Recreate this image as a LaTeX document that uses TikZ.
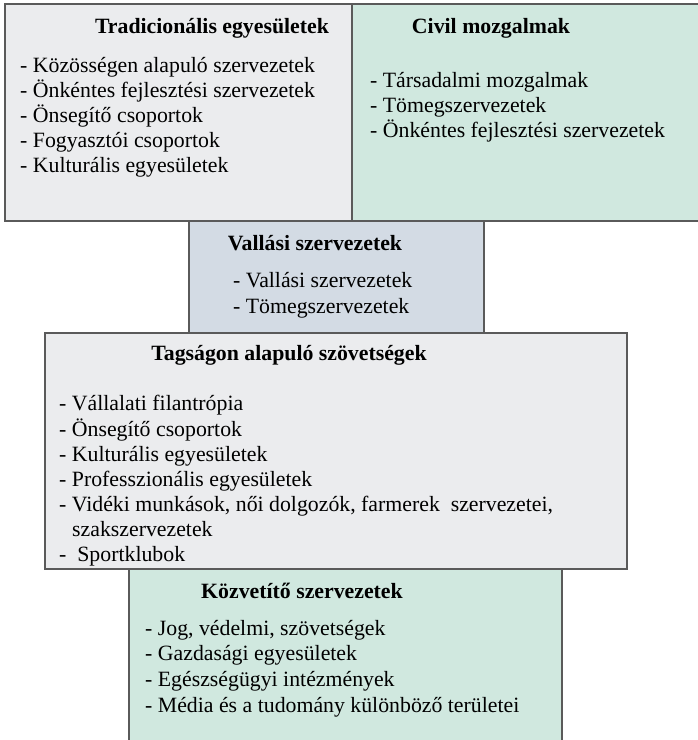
\documentclass[tikz,border=0pt]{standalone}
\usepackage{fontspec}
\setmainfont{Liberation Serif}
\definecolor{boxgray}{HTML}{EBECEE}
\definecolor{boxgreen}{HTML}{D0E8DF}
\definecolor{boxblue}{HTML}{D3DBE4}
\definecolor{edge}{HTML}{5A5A5A}
\tikzset{
  panel/.style={draw=edge, line width=1.4pt},
  itm/.style={font=\fontsize{21.8}{25}\selectfont, inner sep=0pt, anchor=base west, text=black},
  ttl/.style={font=\fontsize{21.8}{25}\selectfont\bfseries, inner sep=0pt, anchor=base, text=black}
}
\begin{document}
\begin{tikzpicture}[x=1pt,y=-1pt]
\useasboundingbox (0,0) rectangle (698,740);
\fill[white] (0,0) rectangle (698,740);
% boxes
\draw[panel, fill=boxgray] (5,4) rectangle (352,221);
\draw[panel, fill=boxgreen] (352,4) rectangle (704,221);
\draw[panel, fill=boxblue] (189,221) rectangle (484,333);
\draw[panel, fill=boxgray] (45,333) rectangle (627,569);
\draw[panel, fill=boxgreen] (129,569) rectangle (562,746);
% Tradicionális
\node[ttl] (t1) at (212,33) {Tradicionális egyesületek};
\node[itm] (t1a) at (20,72) {- Közösségen alapuló szervezetek};
\node[itm] (t1b) at (20,97) {- Önkéntes fejlesztési szervezetek};
\node[itm] (t1c) at (20,122) {- Önsegítő csoportok};
\node[itm] (t1d) at (20,147) {- Fogyasztói csoportok};
\node[itm] (t1e) at (20,172) {- Kulturális egyesületek};
% Civil
\node[ttl] (t2) at (491,33) {Civil mozgalmak};
\node[itm] (t2a) at (370,87) {- Társadalmi mozgalmak};
\node[itm] (t2b) at (370,112) {- Tömegszervezetek};
\node[itm] (t2c) at (370,137) {- Önkéntes fejlesztési szervezetek};
% Vallási
\node[ttl] (t3) at (315,250) {Vallási szervezetek};
\node[itm] (t3a) at (233,287) {- Vallási szervezetek};
\node[itm] (t3b) at (233,313) {- Tömegszervezetek};
% Tagságon
\node[ttl] (t4) at (289,360) {Tagságon alapuló szövetségek};
\node[itm] (t4a) at (59,410) {- Vállalati filantrópia};
\node[itm] (t4b) at (59,436) {- Önsegítő csoportok};
\node[itm] (t4c) at (59,461) {- Kulturális egyesületek};
\node[itm] (t4d) at (59,486) {- Professzionális egyesületek};
\node[itm] (t4e) at (59,511) {- Vidéki munkások, női dolgozók, farmerek\ \ szervezetei,};
\node[itm] (t4f) at (72,536) {szakszervezetek};
\node[itm] (t4g) at (59,561) {-\ \ Sportklubok};
% Közvetítő
\node[ttl] (t5) at (302,598) {Közvetítő szervezetek};
\node[itm] (t5a) at (145,635) {- Jog, védelmi, szövetségek};
\node[itm] (t5b) at (145,660) {- Gazdasági egyesületek};
\node[itm] (t5c) at (145,686) {- Egészségügyi intézmények};
\node[itm] (t5d) at (145,712) {- Média és a tudomány különböző területei};
\end{tikzpicture}
\end{document}
